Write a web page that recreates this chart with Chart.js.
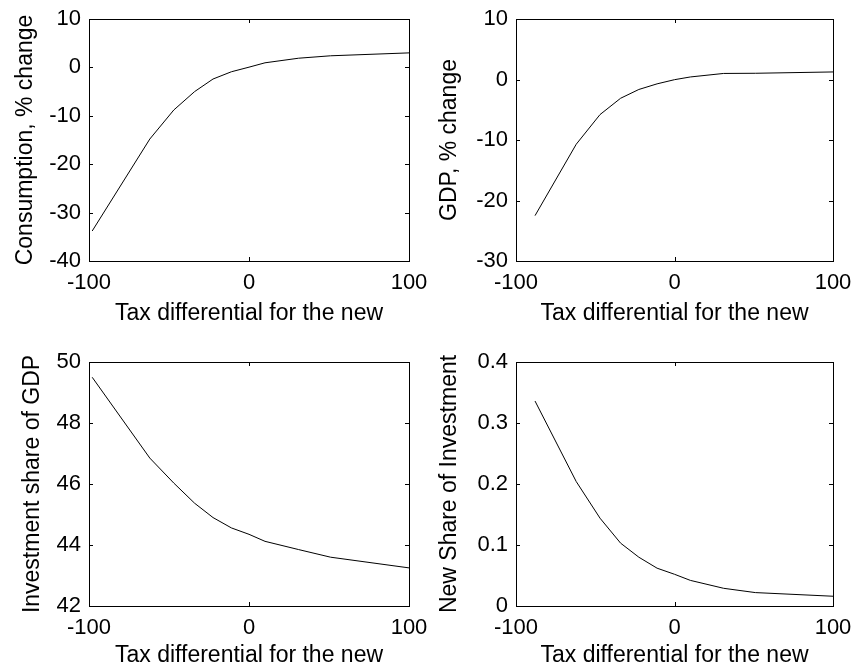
<!DOCTYPE html>
<html><head><meta charset="utf-8">
<script src="https://cdn.jsdelivr.net/npm/chart.js@4.4.0/dist/chart.umd.min.js"></script>
<style>
html,body{margin:0;padding:0;background:#fff;overflow:hidden;width:853px;height:665px;}
canvas{position:absolute;left:0;top:0;}
</style></head><body>
<canvas id="c1" width="853" height="700"></canvas>
<canvas id="c2" width="853" height="700"></canvas>
<canvas id="c3" width="853" height="700"></canvas>
<canvas id="c4" width="853" height="700"></canvas>
<script>
// ---- data ----
const taxDiffA = [-98, -62, -47, -34, -22.5, -11, 0, 10, 31, 51, 100];
const taxDiffB = [-88, -62, -47, -34, -22.5, -11, 0, 10, 31, 51, 100];
const consumption = [-33.8, -14.8, -8.8, -5.0, -2.4, -0.9, 0.05, 0.95, 1.9, 2.4, 3.0];
const gdp = [-22.5, -10.7, -5.8, -3.1, -1.65, -0.72, -0.03, 0.42, 1.0, 1.03, 1.25];
const investShare = [49.5, 46.85, 46.03, 45.37, 44.9, 44.56, 44.35, 44.12, 43.85, 43.6, 43.25];
const newShare = [0.336, 0.204, 0.144, 0.103, 0.080, 0.062, 0.052, 0.042, 0.029, 0.022, 0.016];

const xTicks = [-100, 0, 100];
const consTicks = [-40, -30, -20, -10, 0, 10];
const gdpTicks = [-30, -20, -10, 0, 10];
const investTicks = [42, 44, 46, 48, 50];
const newShareTicks = [0, 0.1, 0.2, 0.3, 0.4];

const xTitle = 'Tax differential for the new';
const yTitles = ['Consumption, % change', 'GDP, % change', 'Investment share of GDP', 'New Share of Investment'];

// ---- drawing ----
const FONT = "'Liberation Sans', Arial, Helvetica, sans-serif";
const CANVAS_W = 853, CANVAS_H = 700;

const boxPlugin = {
  id: 'matlabBox',
  afterDraw(chart) {
    const {ctx, chartArea: a, scales: {x, y}} = chart;
    ctx.save();
    ctx.strokeStyle = '#000';
    ctx.lineWidth = 1;
    ctx.strokeRect(a.left + 0.5, a.top + 0.5, a.right - a.left, a.bottom - a.top);
    const tl = 4;
    ctx.beginPath();
    x.ticks.forEach(t => {
      const px = Math.round(x.getPixelForValue(t.value)) + 0.5;
      ctx.moveTo(px, a.bottom); ctx.lineTo(px, a.bottom - tl);
      ctx.moveTo(px, a.top); ctx.lineTo(px, a.top + tl);
    });
    y.ticks.forEach(t => {
      const py = Math.round(y.getPixelForValue(t.value)) + 0.5;
      ctx.moveTo(a.left, py); ctx.lineTo(a.left + tl, py);
      ctx.moveTo(a.right, py); ctx.lineTo(a.right - tl, py);
    });
    ctx.stroke();
    ctx.restore();
  }
};

function makePanel(id, xs, ys, yTickVals, yTitle, geo) {
  const {L, R, T, B, W, H} = geo;
  const data = xs.map((v, i) => ({x: v, y: ys[i]}));
  new Chart(document.getElementById(id), {
    type: 'line',
    data: { datasets: [{ data, borderColor: '#000', borderWidth: 1, pointRadius: 0, tension: 0, fill: false }] },
    options: {
      responsive: false,
      animation: false,
      devicePixelRatio: 1,
      layout: { padding: { left: L - W, top: T, right: CANVAS_W - R, bottom: CANVAS_H - (B + H) } },
      plugins: { legend: { display: false }, tooltip: { enabled: false } },
      scales: {
        x: {
          type: 'linear', position: 'bottom',
          min: xTicks[0], max: xTicks[xTicks.length - 1],
          afterBuildTicks: s => { s.ticks = xTicks.map(v => ({value: v})); },
          afterFit: s => { s.height = H; s.paddingLeft = 0; s.paddingRight = 0; },
          grid: { display: false, drawTicks: false, tickLength: 0 },
          border: { display: false },
          ticks: { color: '#000', font: { family: FONT, size: 22 }, padding: 9, maxRotation: 0, autoSkip: false, callback: v => String(v) },
          title: { display: true, text: xTitle, color: '#000', font: { family: FONT, size: 23 }, padding: 0 }
        },
        y: {
          type: 'linear', position: 'left',
          min: yTickVals[0], max: yTickVals[yTickVals.length - 1],
          afterBuildTicks: s => { s.ticks = yTickVals.map(v => ({value: v})); },
          afterFit: s => { s.width = W; s.paddingTop = 0; s.paddingBottom = 0; },
          grid: { display: false, drawTicks: false, tickLength: 0 },
          border: { display: false },
          ticks: { color: '#000', font: { family: FONT, size: 22 }, padding: 8, autoSkip: false, callback: v => String(v) },
          title: { display: true, text: yTitle, color: '#000', font: { family: FONT, size: 23 }, padding: 0 }
        }
      }
    },
    plugins: [boxPlugin]
  });
}

makePanel('c1', taxDiffA, consumption, consTicks, yTitles[0], {L: 89, R: 409, T: 19, B: 261, W: 77, H: 66});
makePanel('c2', taxDiffB, gdp, gdpTicks, yTitles[1], {L: 516, R: 833, T: 19, B: 261, W: 80, H: 66});
makePanel('c3', taxDiffA, investShare, investTicks, yTitles[2], {L: 89, R: 409, T: 362, B: 606, W: 70, H: 63});
makePanel('c4', taxDiffB, newShare, newShareTicks, yTitles[3], {L: 516, R: 833, T: 362, B: 606, W: 80, H: 63});
</script>
</body></html>
